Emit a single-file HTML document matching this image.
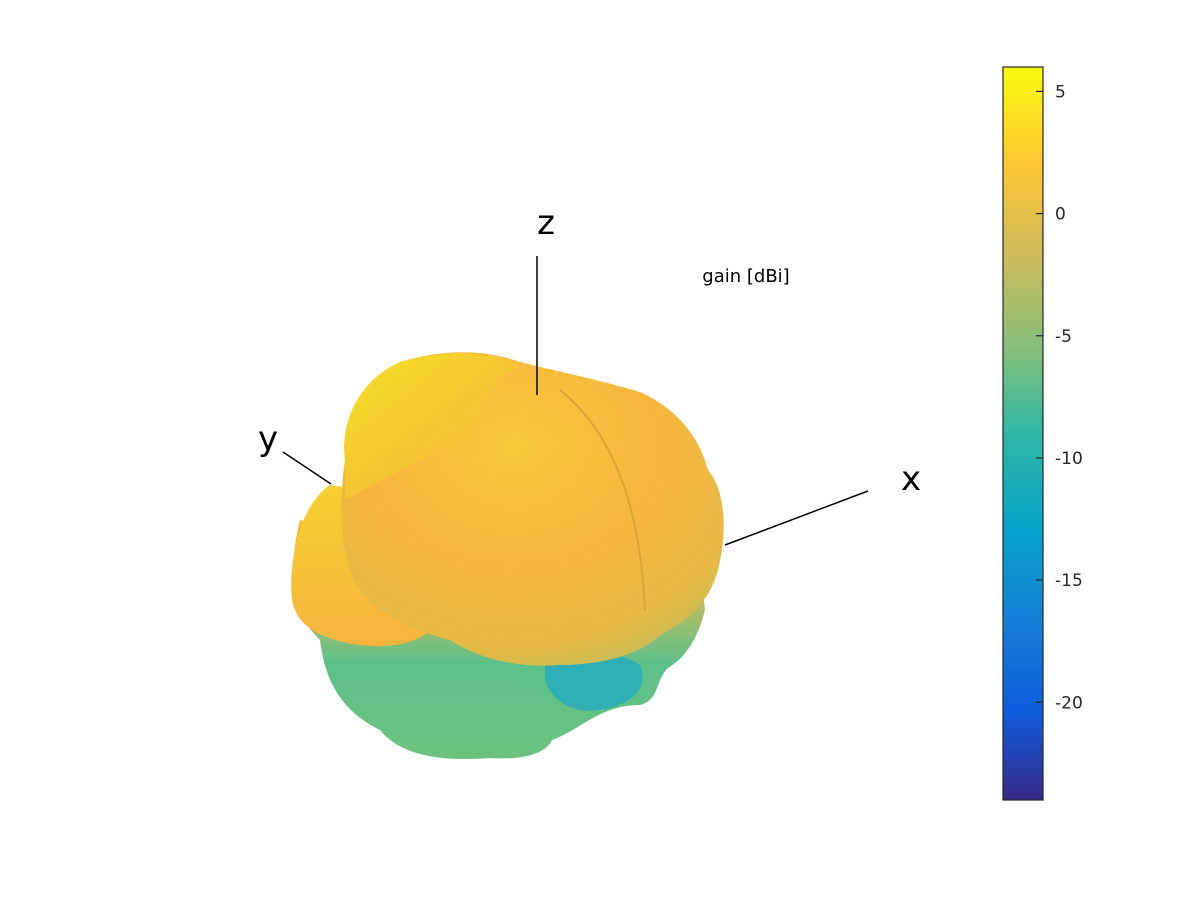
<!DOCTYPE html>
<html><head><meta charset="utf-8"><style>
body{margin:0;background:#fff;}
svg{display:block;font-family:"DejaVu Sans","Liberation Sans",sans-serif;}
</style></head><body>
<svg id="chart" width="1200" height="900" viewBox="0 0 1200 900">
<defs>
<linearGradient id="parula" x1="0" y1="1" x2="0" y2="0">
<stop offset="0" stop-color="#352a87"/>
<stop offset="0.12" stop-color="#0f5cdd"/>
<stop offset="0.25" stop-color="#1481d6"/>
<stop offset="0.37" stop-color="#06a4ca"/>
<stop offset="0.5" stop-color="#2eb7a4"/>
<stop offset="0.62" stop-color="#87bf77"/>
<stop offset="0.75" stop-color="#d1bb59"/>
<stop offset="0.87" stop-color="#fec832"/>
<stop offset="1" stop-color="#f9fb0e"/>
</linearGradient>
<linearGradient id="lowerG" x1="0" y1="0" x2="0" y2="1">
<stop offset="0" stop-color="#f5b93a"/>
<stop offset="0.35" stop-color="#b9bd60"/>
<stop offset="0.6" stop-color="#5cc08a"/>
<stop offset="1" stop-color="#6cc27e"/>
</linearGradient>
<radialGradient id="bodyG" cx="0.45" cy="0.3" r="0.8">
<stop offset="0" stop-color="#f8c83a"/>
<stop offset="0.5" stop-color="#f7b63d"/>
<stop offset="0.8" stop-color="#e6ba45"/>
<stop offset="1" stop-color="#b8bd5e"/>
</radialGradient>
<linearGradient id="topG" x1="0" y1="0" x2="1" y2="1">
<stop offset="0" stop-color="#f2ea20"/>
<stop offset="0.5" stop-color="#f6c830"/>
<stop offset="1" stop-color="#f7b93b"/>
</linearGradient>
<linearGradient id="leftG" x1="0" y1="0" x2="0" y2="1">
<stop offset="0" stop-color="#f6d030"/>
<stop offset="1" stop-color="#f7b43d"/>
</linearGradient>
</defs>

<g>
<path fill="url(#lowerG)" d="M300,520 C290,560 288,610 320,640 C325,680 340,710 380,730 C400,755 440,762 490,758 C520,760 545,755 552,740 C580,730 600,705 640,705 C660,700 655,680 668,668 C690,655 700,630 705,610 L700,560 L500,560 Z"/>
<path fill="#1fa9c4" opacity="0.75" d="M545,660 C570,650 620,650 640,665 C650,690 630,705 600,710 C575,715 550,700 545,680 Z"/>
<path fill="url(#leftG)" d="M330,485 C300,505 288,560 292,600 C296,625 320,640 360,645 C400,650 440,640 450,600 L430,500 Z"/>
<path fill="url(#bodyG)" d="M345,460 C340,420 360,380 400,362 C440,350 480,348 520,362 C560,372 600,380 640,392 C680,410 700,440 708,470 C725,490 728,530 718,570 C710,600 690,620 660,635 C640,655 600,665 560,665 C520,668 480,660 450,640 C410,630 380,615 360,590 C340,560 338,510 345,460 Z"/>
<path fill="url(#topG)" opacity="0.85" d="M345,460 C340,420 360,380 400,362 C440,350 490,350 520,365 C500,380 480,400 470,440 C440,450 400,470 345,500 Z"/>
<path fill="none" stroke="#d9a53a" stroke-width="2" d="M560,390 C610,430 640,500 645,610"/>
</g>

<g stroke="#000" stroke-width="1.5">
<line x1="537" y1="256" x2="537" y2="395"/>
<line x1="283" y1="452" x2="331" y2="484"/>
<line x1="725" y1="545" x2="868" y2="491"/>
</g>
<text x="546" y="234" font-size="34" text-anchor="middle">z</text>
<text x="268" y="450" font-size="34" text-anchor="middle">y</text>
<text x="911" y="490" font-size="34" text-anchor="middle">x</text>
<text x="746" y="282" font-size="18" text-anchor="middle">gain [dBi]</text>

<g id="colorbar"></g>
</svg>
<script>
const cbTicks = [5, 0, -5, -10, -15, -20];
const cbMin = -24;
const cbMax = 6;
const cbX = 1003, cbW = 40, cbTop = 67, cbBottom = 800;
const ns = "http://www.w3.org/2000/svg";
const cb = document.getElementById('colorbar');
function cbY(v){ return cbBottom - (v - cbMin) / (cbMax - cbMin) * (cbBottom - cbTop); }
const rect = document.createElementNS(ns, 'rect');


rect.setAttribute('x', cbX); rect.setAttribute('y', cbTop);
rect.setAttribute('width', cbW); rect.setAttribute('height', cbBottom - cbTop);
rect.setAttribute('fill', 'url(#parula)'); rect.setAttribute('stroke', '#262626'); rect.setAttribute('stroke-width', '1.2');
cb.appendChild(rect);
cbTicks.forEach(t => {
  const y = cbY(t);
  const tk = document.createElementNS(ns, 'line');
  
  
  tk.setAttribute('x1', cbX + cbW - 7); tk.setAttribute('x2', cbX + cbW);
  tk.setAttribute('y1', y); tk.setAttribute('y2', y);
  tk.setAttribute('stroke', '#262626'); tk.setAttribute('stroke-width', '1.2');
  cb.appendChild(tk);
  const lb = document.createElementNS(ns, 'text');
  
  
  lb.setAttribute('x', 1055); lb.setAttribute('y', y + 6);
  lb.setAttribute('font-size', '17'); lb.setAttribute('fill', '#262626');
  lb.textContent = t;
  cb.appendChild(lb);
});
</script>
</body></html>
